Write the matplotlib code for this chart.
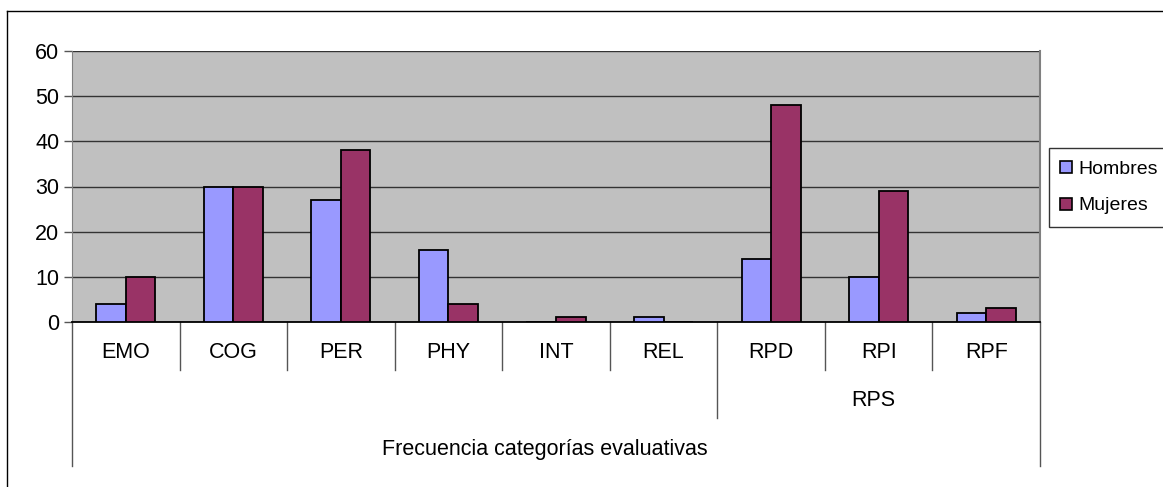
import numpy as np
import matplotlib.pyplot as plt
from matplotlib.lines import Line2D

plt.rcParams['font.family'] = ['Liberation Sans', 'DejaVu Sans']

# datos
categorias = ['EMO', 'COG', 'PER', 'PHY', 'INT', 'REL', 'RPD', 'RPI', 'RPF']
hombres = [4, 30, 27, 16, 0, 1, 14, 10, 2]
mujeres = [10, 30, 38, 4, 1, 0, 48, 29, 3]
grupo_rps = 'RPS'
titulo_eje = 'Frecuencia categorías evaluativas'
series = ['Hombres', 'Mujeres']
colores = ['#9999FF', '#993366']

W, H = 1163, 487
fig = plt.figure(figsize=(W / 100, H / 100), dpi=100)
fig.patch.set_facecolor('white')
fs = 15.5

# marco exterior
fig.add_artist(Line2D([7 / W, 7 / W], [0, 1 - 11 / H], color='black', lw=1))
fig.add_artist(Line2D([7 / W, 1], [1 - 11 / H, 1 - 11 / H], color='black', lw=1))

x0, x1, y0, y1 = 72, 1040, 322, 51
ax = fig.add_axes([x0 / W, 1 - y0 / H, (x1 - x0) / W, (y0 - y1) / H])
ax.set_facecolor('#C0C0C0')

x = np.arange(len(categorias))
bw = 0.275
ax.bar(x - bw / 2, hombres, bw, color=colores[0], edgecolor='black', lw=1.3, zorder=3)
ax.bar(x + bw / 2, mujeres, bw, color=colores[1], edgecolor='black', lw=1.3, zorder=3)

ax.set_xlim(-0.5, len(categorias) - 0.5)
ax.set_ylim(0, 60)
ax.set_yticks(range(0, 61, 10))
ax.yaxis.grid(True, color='#333333', lw=1, zorder=1)
ax.set_axisbelow(True)
ax.tick_params(axis='y', length=6, width=1, color='#555555', pad=3, labelsize=fs)
ax.set_xticks([])
for s in ['top', 'right']:
    ax.spines[s].set_visible(False)
ax.spines['left'].set_color('#808080')
ax.spines['bottom'].set_color('black')
ax.spines['bottom'].set_linewidth(1.3)
ax.plot([1, 1], [0, 1], transform=ax.transAxes, color='#808080', lw=1.5, clip_on=False)

# etiquetas jerarquicas del eje x
tr = ax.get_xaxis_transform()
def ypx(p):
    return (y0 - p) / (y0 - y1)

for i, c in enumerate(categorias):
    ax.text(i, ypx(352), c, transform=tr, ha='center', va='center', fontsize=fs)
for b in np.arange(0.5, len(categorias) - 1, 1.0):
    fondo = 418 if b == 5.5 else 370
    ax.plot([b, b], [0, ypx(fondo)], transform=tr, color='#555555', lw=1, clip_on=False)
for b in [-0.5, len(categorias) - 0.5]:
    ax.plot([b, b], [0, ypx(466)], transform=tr, color='#555555', lw=1, clip_on=False)
ax.text(6.95, ypx(400), grupo_rps, transform=tr, ha='center', va='center', fontsize=fs)
ax.text(3.9, ypx(449), titulo_eje, transform=tr, ha='center', va='center', fontsize=fs)

handles = [Line2D([], [], marker='s', ls='', markersize=8, markerfacecolor=c,
                  markeredgecolor='black', markeredgewidth=1.2) for c in colores]
leg = fig.legend(handles, series, loc='upper left', bbox_to_anchor=(1049 / W, 1 - 148 / H),
                 frameon=True, fancybox=False, fontsize=14, handlelength=0.4,
                 handletextpad=0.44, borderpad=0.65, labelspacing=0.95, borderaxespad=0)
leg.get_frame().set_edgecolor('black')
leg.get_frame().set_linewidth(1)

fig.savefig('out.png', dpi=100)
